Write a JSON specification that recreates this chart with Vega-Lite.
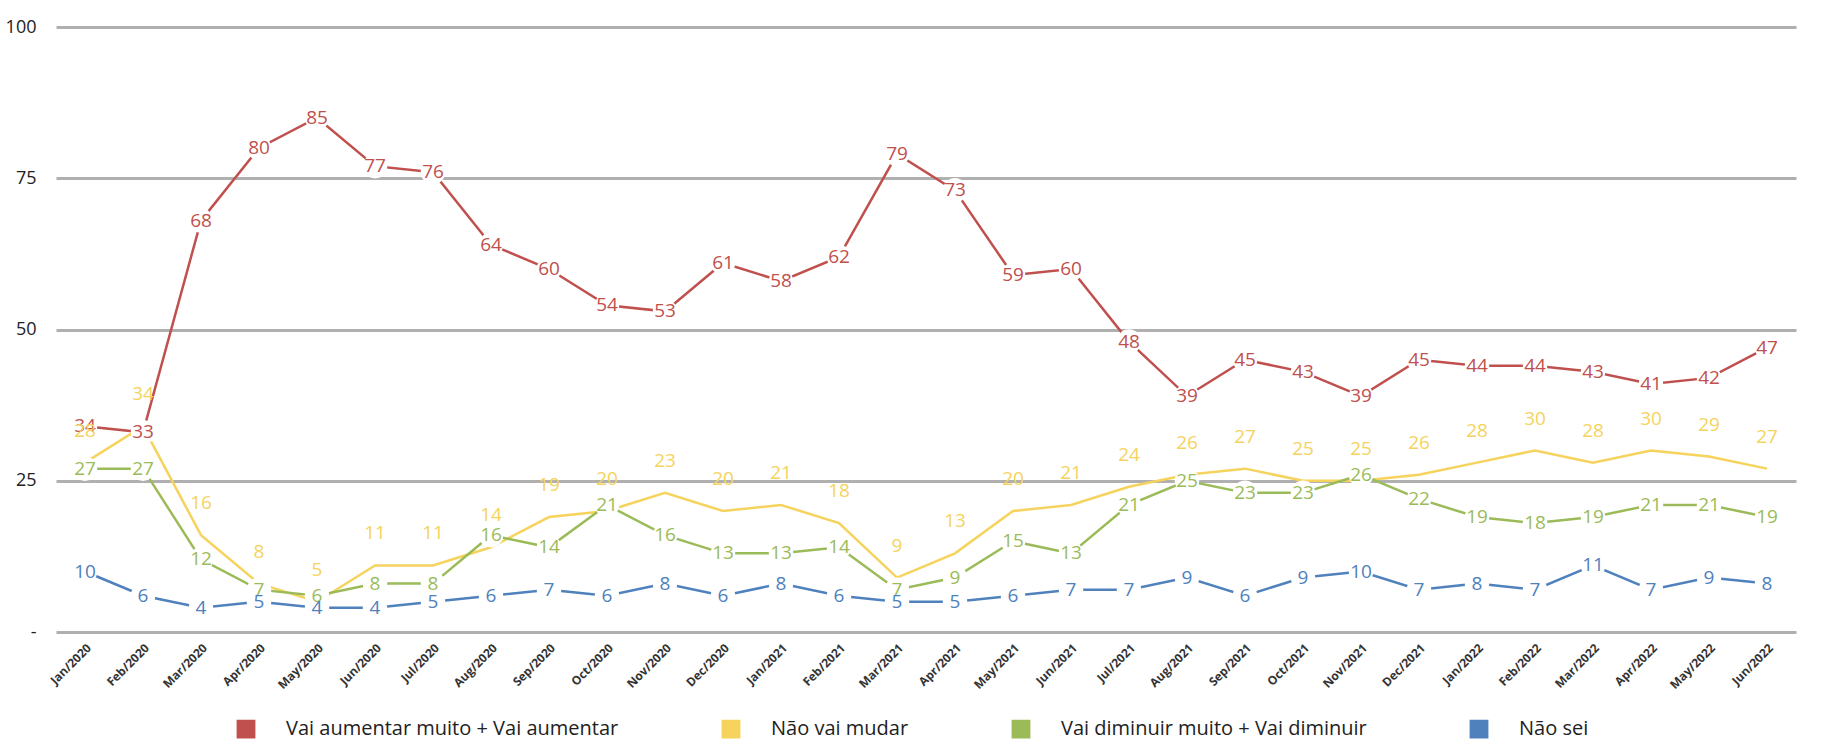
{
  "$schema": "https://vega.github.io/schema/vega-lite/v6.json",
  "width": 1740,
  "height": 605,
  "padding": {"left": 5, "top": 18, "right": 20, "bottom": 0},
  "config": {"view": {"stroke": null}, "font": "Open Sans"},
  "data": {"values": [
    {"m":"Jan/2020","a":34,"b":28,"c":27,"d":10},
    {"m":"Feb/2020","a":33,"b":34,"c":27,"d":6},
    {"m":"Mar/2020","a":68,"b":16,"c":12,"d":4},
    {"m":"Apr/2020","a":80,"b":8,"c":7,"d":5},
    {"m":"May/2020","a":85,"b":5,"c":6,"d":4},
    {"m":"Jun/2020","a":77,"b":11,"c":8,"d":4},
    {"m":"Jul/2020","a":76,"b":11,"c":8,"d":5},
    {"m":"Aug/2020","a":64,"b":14,"c":16,"d":6},
    {"m":"Sep/2020","a":60,"b":19,"c":14,"d":7},
    {"m":"Oct/2020","a":54,"b":20,"c":21,"d":6},
    {"m":"Nov/2020","a":53,"b":23,"c":16,"d":8},
    {"m":"Dec/2020","a":61,"b":20,"c":13,"d":6},
    {"m":"Jan/2021","a":58,"b":21,"c":13,"d":8},
    {"m":"Feb/2021","a":62,"b":18,"c":14,"d":6},
    {"m":"Mar/2021","a":79,"b":9,"c":7,"d":5},
    {"m":"Apr/2021","a":73,"b":13,"c":9,"d":5},
    {"m":"May/2021","a":59,"b":20,"c":15,"d":6},
    {"m":"Jun/2021","a":60,"b":21,"c":13,"d":7},
    {"m":"Jul/2021","a":48,"b":24,"c":21,"d":7},
    {"m":"Aug/2021","a":39,"b":26,"c":25,"d":9},
    {"m":"Sep/2021","a":45,"b":27,"c":23,"d":6},
    {"m":"Oct/2021","a":43,"b":25,"c":23,"d":9},
    {"m":"Nov/2021","a":39,"b":25,"c":26,"d":10},
    {"m":"Dec/2021","a":45,"b":26,"c":22,"d":7},
    {"m":"Jan/2022","a":44,"b":28,"c":19,"d":8},
    {"m":"Feb/2022","a":44,"b":30,"c":18,"d":7},
    {"m":"Mar/2022","a":43,"b":28,"c":19,"d":11},
    {"m":"Apr/2022","a":41,"b":30,"c":21,"d":7},
    {"m":"May/2022","a":42,"b":29,"c":21,"d":9},
    {"m":"Jun/2022","a":47,"b":27,"c":19,"d":8}
  ]},
  "transform": [
    {"fold": ["a","b","c","d"], "as": ["k","v"]},
    {"lookup": "k", "from": {"data": {"values": [
      {"k":"a","s":"Vai aumentar muito + Vai aumentar"},
      {"k":"b","s":"Não vai mudar"},
      {"k":"c","s":"Vai diminuir muito + Vai diminuir"},
      {"k":"d","s":"Não sei"}]}, "key": "k", "fields": ["s"]}}
  ],
  "encoding": {
    "x": {"field": "m", "type": "ordinal", "sort": null, "title": null,
      "scale": {"paddingOuter": 0.3},
      "axis": {"labelAngle": -45, "labelFontSize": 12, "labelFontWeight": "bold", "labelColor": "#333", "domain": false, "ticks": false, "labelPadding": 10}},
    "y": {"field": "v", "type": "quantitative", "title": null,
      "scale": {"domain": [0, 100]},
      "axis": {"values": [0,25,50,75,100], "labelExpr": "datum.value == 0 ? '-' : datum.label", "labelFontSize": 18, "labelColor": "#222", "gridColor": "#b0b0b0", "gridWidth": 3, "domain": false, "ticks": false, "labelPadding": 20}},
    "color": {"field": "s", "type": "nominal", "title": null,
      "scale": {"domain": ["Vai aumentar muito + Vai aumentar","Não vai mudar","Vai diminuir muito + Vai diminuir","Não sei"],
        "range": ["#c0504d","#f5d35c","#9bbb59","#4f81bd"]},
      "legend": {"orient": "none", "legendX": 180, "legendY": 692, "direction": "horizontal", "symbolType": "square", "symbolSize": 300, "labelFontSize": 20, "labelColor": "#222", "columnPadding": 100, "labelOffset": 30, "labelLimit": 500}}
  },
  "layer": [
    {"mark": {"type": "line", "strokeWidth": 2.5}},
    {"transform": [{"filter": "datum.k != 'b'"}],
     "mark": {"type": "circle", "size": 600, "opacity": 1},
     "encoding": {"color": {"value": "white"}}},
    {"transform": [{"filter": "datum.k != 'b'"}],
     "mark": {"type": "text", "fontSize": 19},
     "encoding": {"text": {"field": "v"}}},
    {"transform": [{"filter": "datum.k == 'b'"}],
     "mark": {"type": "text", "fontSize": 19, "dy": -32},
     "encoding": {"text": {"field": "v"}}}
  ]
}
